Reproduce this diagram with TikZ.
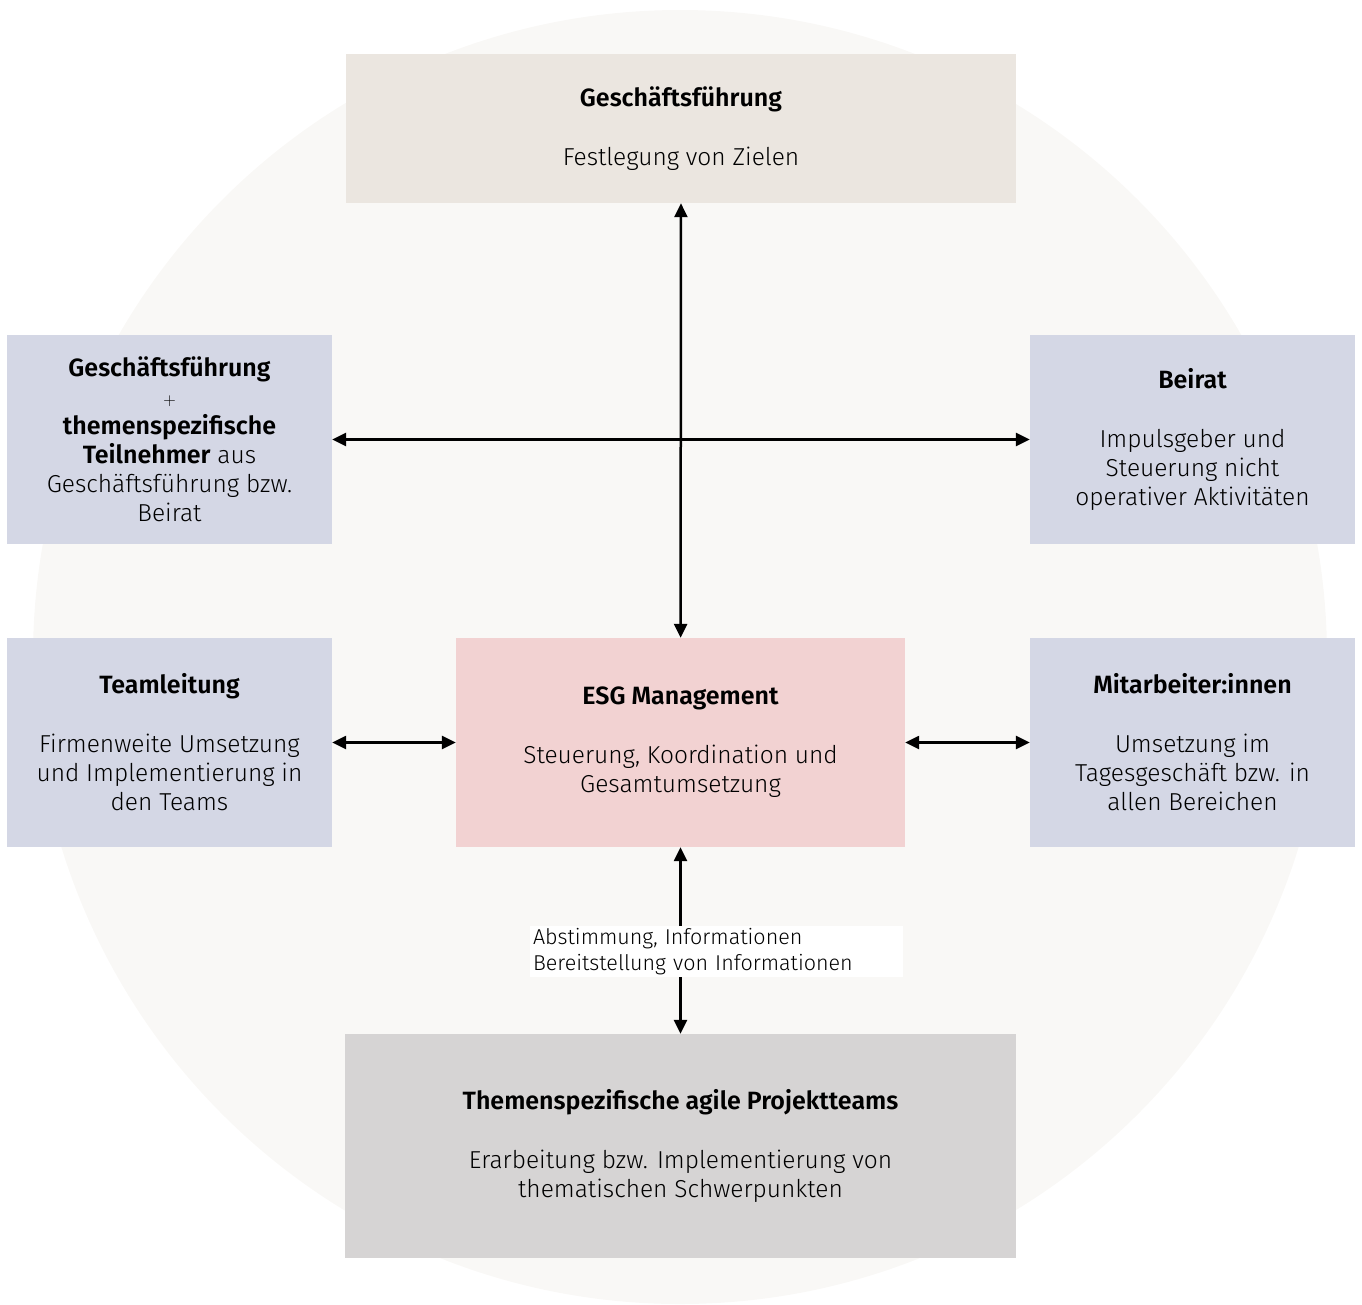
\documentclass[tikz,border=0pt]{standalone}
\usepackage{fontspec}
\setmainfont{Fira Sans}[UprightFont=* Light, BoldFont=* SemiBold]
\usetikzlibrary{arrows.meta}
\definecolor{circlebg}{HTML}{F9F8F6}
\definecolor{topbox}{HTML}{EBE6E0}
\definecolor{sidebox}{HTML}{D4D7E5}
\definecolor{esgbox}{HTML}{F2D2D2}
\definecolor{teambox}{HTML}{D6D4D4}
\newcommand{\titel}[1]{{\fontsize{25}{29}\selectfont\bfseries #1}}

\begin{document}
\begin{tikzpicture}[x=1pt,y=-1pt,
    box/.style={inner sep=0pt,align=center,
      font=\fontsize{24.5}{29}\selectfont},
    sidebox/.style={box,fill=sidebox,minimum width=325pt,minimum height=209pt},
    link/.style={line width=2.5pt,{Triangle[length=14pt,width=13pt]}-{Triangle[length=14pt,width=13pt]}}]
    \useasboundingbox (0,0) rectangle (1362,1304);
    \fill[circlebg] (680,657) circle (647pt);
    \node[box,fill=topbox,minimum width=670pt,minimum height=149pt] (gf) at (681,128.5)
      {\titel{Geschäftsführung}\\[30pt]Festlegung von Zielen};
    \node[sidebox] (kreis) at (169.5,439.5)
      {\titel{Geschäftsführung}\\{\fontsize{17}{25}\selectfont$+$}\\\titel{themenspezifische}\\
       \titel{Teilnehmer} aus\\Geschäftsführung bzw.\\Beirat};
    \node[sidebox] (beirat) at (1192.5,439.5)
      {\titel{Beirat}\\[30pt]Impulsgeber und\\Steuerung nicht\\operativer Aktivitäten};
    \node[sidebox] (team) at (169.5,742.5)
      {\titel{Teamleitung}\\[30pt]Firmenweite Umsetzung\\und Implementierung in\\den Teams};
    \node[box,fill=esgbox,minimum width=449pt,minimum height=209pt] (esg) at (680.5,742.5)
      {\titel{ESG Management}\\[30pt]Steuerung, Koordination und\\Gesamtumsetzung};
    \node[sidebox] (ma) at (1192.5,742.5)
      {\titel{Mitarbeiter:innen}\\[30pt]Umsetzung im\\Tagesgeschäft bzw. in\\allen Bereichen};
    \node[box,fill=teambox,minimum width=671pt,minimum height=224pt] (pt) at (680.5,1146)
      {\titel{Themenspezifische agile Projektteams}\\[30pt]Erarbeitung bzw. Implementierung von\\thematischen Schwerpunkten};
    % connectors
    \draw[link] (gf) -- (esg);
    \draw[link] (kreis) -- (beirat);
    \draw[link] (team) -- (esg);
    \draw[link] (esg) -- (ma);
    \draw[link] (esg) -- (pt);
    \node[fill=white,inner xsep=3pt,inner ysep=2pt,align=left,text width=367pt,
      font=\fontsize{21.5}{26}\selectfont] (info) at (716.5,951.5)
      {Abstimmung, Informationen\\Bereitstellung von Informationen};
\end{tikzpicture}
\end{document}
